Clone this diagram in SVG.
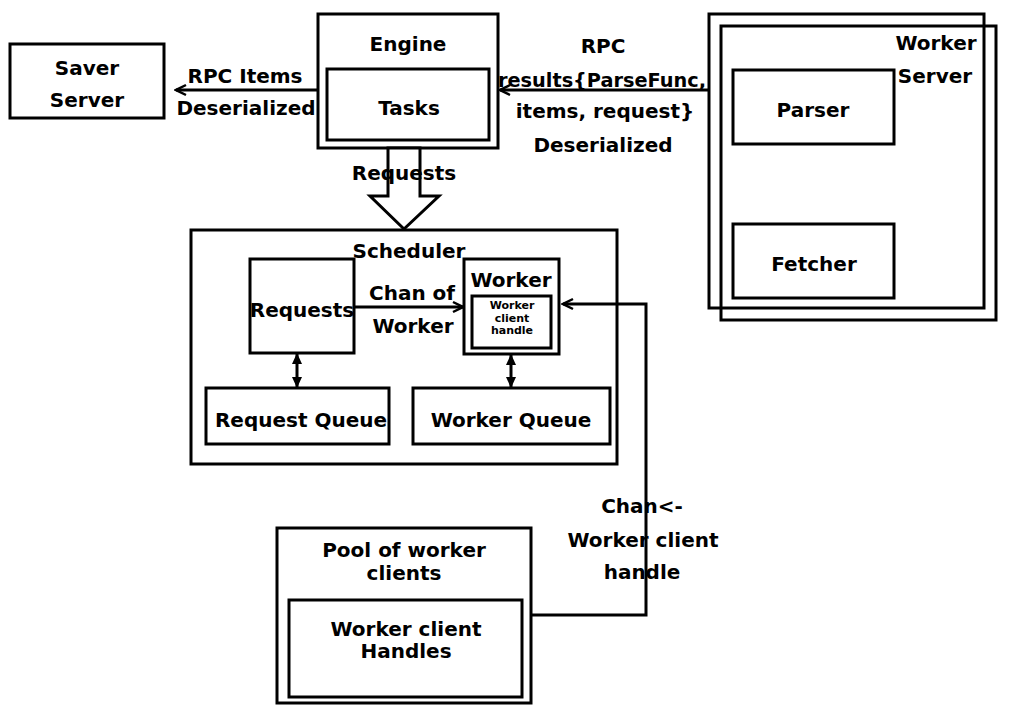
<svg xmlns="http://www.w3.org/2000/svg" width="1009" height="716" viewBox="0 0 1009 716">
<style>
.b{fill:none;stroke:#000;stroke-width:3}
.w{fill:#fff;stroke:#000;stroke-width:3}
.l{fill:none;stroke:#000;stroke-width:3}
text{font-family:"DejaVu Sans","Liberation Sans",sans-serif;font-weight:bold;font-size:20px;fill:#000;text-anchor:middle}
.s{font-size:11px}
</style>
<defs>
<marker id="open" viewBox="0 0 14 14" refX="12" refY="7" markerWidth="14" markerHeight="14" orient="auto" markerUnits="userSpaceOnUse">
<path d="M2,2 L12,7 L2,12" fill="none" stroke="#000" stroke-width="2.5"/>
</marker>
<marker id="solid" viewBox="0 0 12 12" refX="10" refY="6" markerWidth="12" markerHeight="12" orient="auto-start-reverse" markerUnits="userSpaceOnUse">
<path d="M0,1 L11,6 L0,11 Z" fill="#000"/>
</marker>
</defs>
<rect width="1009" height="716" fill="#fff"/>

<g id="saver">
<rect class="b" x="10" y="44" width="154" height="74"/>
<text x="87" y="75">Saver</text>
<text x="87" y="107">Server</text>
</g>

<g id="engine">
<rect class="b" x="318" y="14" width="180" height="134"/>
<rect class="b" x="327" y="69" width="162" height="71"/>
<text x="408" y="51">Engine</text>
<text x="409" y="115">Tasks</text>
</g>

<g id="worker-server">
<rect class="b" x="709" y="14" width="275" height="294"/>
<rect class="b" x="721" y="26" width="275" height="294"/>
<text x="936" y="50">Worker</text>
<text x="935" y="83">Server</text>
<g id="parser">
<rect class="b" x="733" y="70" width="161" height="74"/>
<text x="813" y="117">Parser</text>
</g>
<g id="fetcher">
<rect class="b" x="733" y="224" width="161" height="74"/>
<text x="814" y="271">Fetcher</text>
</g>
</g>

<g id="scheduler">
<rect class="b" x="191" y="230" width="426" height="234"/>
<text x="409" y="258">Scheduler</text>
<g id="requests">
<rect class="b" x="250" y="259" width="104" height="94"/>
<text x="302" y="317">Requests</text>
</g>
<g id="worker">
<rect class="b" x="464" y="259" width="95" height="95"/>
<text x="511" y="287">Worker</text>
<rect class="b" x="472" y="296" width="79" height="52"/>
<text class="s" x="512" y="309">Worker</text>
<text class="s" x="512" y="322">client</text>
<text class="s" x="512" y="334">handle</text>
</g>
<g id="request-queue">
<rect class="b" x="206" y="388" width="183" height="56"/>
<text x="301" y="427">Request Queue</text>
</g>
<g id="worker-queue">
<rect class="b" x="413" y="388" width="197" height="56"/>
<text x="511" y="427">Worker Queue</text>
</g>
</g>

<g id="pool">
<rect class="b" x="277" y="528" width="254" height="175"/>
<text x="404" y="557">Pool of worker</text>
<text x="404" y="580">clients</text>
<rect class="b" x="289" y="600" width="233" height="97"/>
<text x="406" y="636">Worker client</text>
<text x="406" y="658">Handles</text>
</g>

<g id="connectors">
<line class="l" x1="318" y1="90" x2="176" y2="90" marker-end="url(#open)"/>
<line class="l" x1="708" y1="90" x2="500" y2="90" marker-end="url(#open)"/>
<polygon class="w" points="388,148 388,196 370,196 404,229 439,196 420,196 420,148"/>
<line class="l" x1="354" y1="307" x2="463" y2="307" marker-end="url(#open)"/>
<line class="l" x1="297" y1="354" x2="297" y2="387" marker-start="url(#solid)" marker-end="url(#solid)"/>
<line class="l" x1="511" y1="355" x2="511" y2="387" marker-start="url(#solid)" marker-end="url(#solid)"/>
<polyline class="l" points="532,615 646,615 646,304 563,304" marker-end="url(#open)"/>
</g>

<g id="labels">
<text x="245" y="83">RPC Items</text>
<text x="246" y="115">Deserialized</text>
<text x="603" y="53">RPC</text>
<text x="602" y="87" textLength="208" lengthAdjust="spacingAndGlyphs">results{ParseFunc,</text>
<text x="605" y="118">items, request}</text>
<text x="603" y="152">Deserialized</text>
<text x="404" y="180">Requests</text>
<text x="412" y="300">Chan of</text>
<text x="413" y="333">Worker</text>
<text x="642" y="513">Chan&lt;-</text>
<text x="643" y="547">Worker client</text>
<text x="642" y="579">handle</text>
</g>
</svg>
